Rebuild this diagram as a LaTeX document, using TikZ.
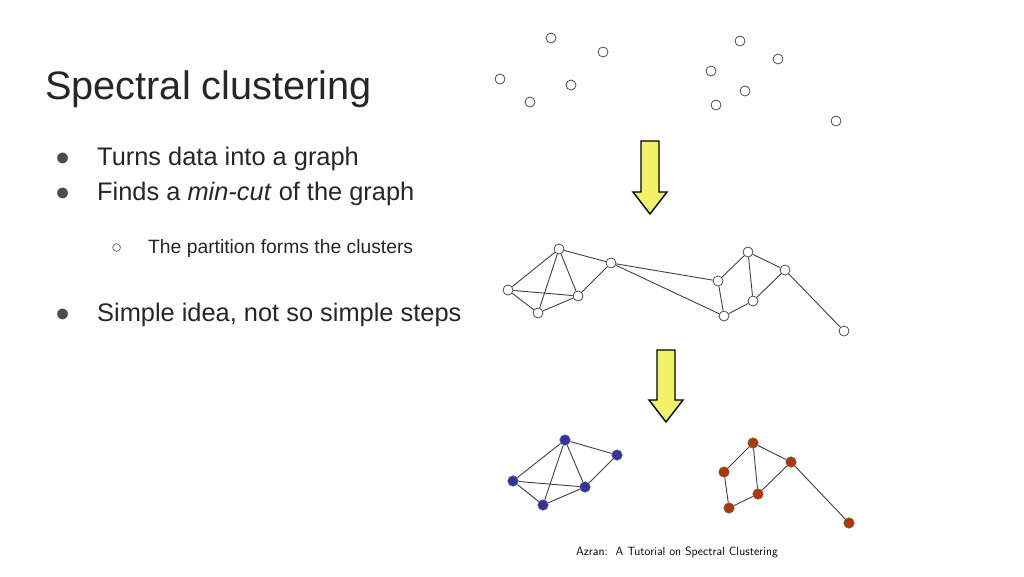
\documentclass[tikz,border=0pt]{standalone}
\usepackage{fontspec}
\setmainfont{Liberation Sans}
\begin{document}
\begin{tikzpicture}[x=1pt,y=-1pt,
  wn/.style={circle,draw=black!70,fill=white,inner sep=0pt,minimum size=10pt,line width=0.8pt},
  bn/.style={circle,draw=black!60,fill=blue!55!black!80,inner sep=0pt,minimum size=10.5pt,line width=0.6pt},
  on/.style={circle,draw=black!60,fill=orange!60!red!70!black,inner sep=0pt,minimum size=10.5pt,line width=0.6pt},
  ed/.style={draw=black!75,line width=0.9pt},
  yarrow/.style={fill=yellow!90!green!60,draw=black,line width=1.4pt},
  txt/.style={anchor=base west,inner sep=0pt,text=black!85}]
\useasboundingbox (0,0) rectangle (1024,576);
\node[txt,font=\fontsize{39.7}{40}\selectfont] (title) at (45,99) {Spectral clustering};
\node[txt,font=\fontsize{25}{26}\selectfont,text=black!70] (b1) at (55,165) {●};
\node[txt,font=\fontsize{25}{26}\selectfont,text=black!70] (b2) at (55,200) {●};
\node[txt,font=\fontsize{25}{26}\selectfont,text=black!70] (b3) at (55,321) {●};
\node[txt,font=\fontsize{25.4}{26}\selectfont] (t1) at (97,165) {Turns data into a graph};
\node[txt,font=\fontsize{25.4}{26}\selectfont] (t2) at (97,200) {Finds a \textit{min-cut} of the graph};
\node[txt,font=\fontsize{25.4}{26}\selectfont] (t3) at (97,321) {Simple idea, not so simple steps};
\node[txt,font=\fontsize{18.5}{19}\selectfont,text=black!70] (s1) at (111,253) {○};
\node[txt,font=\fontsize{19.3}{20}\selectfont] (st) at (148,253) {The partition forms the clusters};
% scattered points
\foreach \x/\y [count=\i] in {551/38,603/52,500/79,571/85,530/102,740/41,778/59,711/71,745/91,716/105,836/121}
  \node[wn] (p\i) at (\x,\y) {};
% arrows
\draw[yarrow] (641,141) -- (659,141) -- (659,192) -- (667,192) -- (650,214) -- (633,192) -- (641,192) -- cycle;
\draw[yarrow] (657,350) -- (675,350) -- (675,400) -- (683,400) -- (666,422) -- (649,400) -- (657,400) -- cycle;
% graph
\foreach \n/\x/\y in {A/559/249,B/611/263,C/508/290,D/578/296,E/538/313,F/718/281,G/724/316,H/748/252,I/785/270,J/753/301,K/844/331}
  \node[wn] (\n) at (\x,\y) {};
\foreach \u/\v in {A/C,A/E,A/D,A/B,C/D,C/E,E/D,D/B,B/F,B/G,F/G,F/H,H/J,H/I,I/J,J/G,I/K}
  \path[ed] (\u) -- (\v);
% clustered
\foreach \n/\x/\y in {a/565/440,b/617/455,c/513/481,d/585/487,e/543/505}
  \node[bn] (\n) at (\x,\y) {};
\foreach \n/\x/\y in {h/753/443,i/791/462,f/724/472,j/758/494,g/729/508,k/849/523}
  \node[on] (\n) at (\x,\y) {};
\foreach \u/\v in {a/c,a/e,a/d,a/b,c/d,c/e,e/d,d/b,f/h,h/j,h/i,i/j,j/g,f/g,i/k}
  \path[ed] (\u) -- (\v);
\node[font=\sffamily\fontsize{12}{13}\selectfont,inner sep=0pt] (cap) at (677,552) {Azran:\ \ A Tutorial on Spectral Clustering};
\end{tikzpicture}
\end{document}
